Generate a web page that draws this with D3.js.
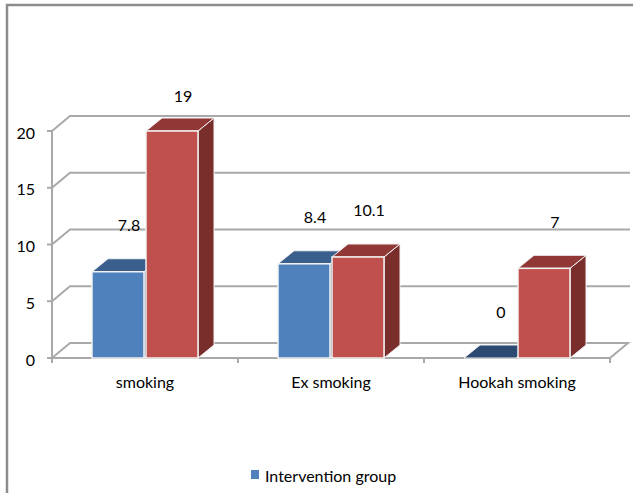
<!DOCTYPE html>
<html>
<head>
<meta charset="utf-8">
<script src="https://cdn.jsdelivr.net/npm/d3@7"></script>
<style>
  body { margin: 0; background: #fff; }
  text { font-family: Lato, "Open Sans", sans-serif; fill: #000; }
</style>
</head>
<body>
<div id="chart"></div>
<script>
// data
var categories = ["smoking", "Ex smoking", "Hookah smoking"];
var interventionBars = [7.6, 8.3, 0];     // drawn heights
var controlBars = [20, 8.9, 7.9];
var interventionLabels = ["7.8", "8.4", "0"];   // labels as printed
var controlLabels = ["19", "10.1", "7"];
var yTicks = [0, 5, 10, 15, 20];
var legendNames = ["Intervention group"];

var width = 633, height = 493;
var svg = d3.select("#chart").append("svg")
    .attr("width", width)
    .attr("height", height);

// outer frame (right/bottom edges fall off the picture)
svg.append("rect")
    .attr("x", 7).attr("y", 5)
    .attr("width", 640).attr("height", 500)
    .style("fill", "none")
    .style("stroke", "#8c8c8c")
    .style("stroke-width", 2.5);

var x0 = 52, x1 = 610;          // front floor edge
var depthX = 18, depthY = -15;  // wall depth
var barDX = 16, barDY = -13;    // bar depth

var x = d3.scaleBand().domain(categories).range([x0, x1]);
var y = d3.scaleLinear().domain([0, 20]).range([358, 131]);

var g = svg.append("g");
var gridColor = "#a9a9a9";

// back wall gridlines + diagonals from the front ticks
yTicks.forEach(function(t) {
    if (t === 0) return;
    g.append("path")
        .attr("d", "M" + x0 + "," + y(t) + "L" + (x0 + depthX) + "," + (y(t) + depthY) +
                   "L" + (x1 + depthX + 2) + "," + (y(t) + depthY))
        .style("fill", "none")
        .style("stroke", gridColor)
        .style("stroke-width", 2);
});

// floor
g.append("path")
    .attr("d", "M" + x0 + "," + y(0) + "L" + (x0 + depthX) + "," + (y(0) + depthY) +
               "L" + (x1 + depthX) + "," + (y(0) + depthY) + "L" + x1 + "," + y(0) + "Z")
    .style("fill", "#fff")
    .style("stroke", gridColor)
    .style("stroke-width", 2);

// y axis
g.append("line")
    .attr("x1", x0).attr("x2", x0)
    .attr("y1", y(20)).attr("y2", y(0) + 1)
    .style("stroke", gridColor).style("stroke-width", 2);
yTicks.forEach(function(t) {
    g.append("line")
        .attr("x1", x0 - 5).attr("x2", x0)
        .attr("y1", y(t)).attr("y2", y(t))
        .style("stroke", gridColor).style("stroke-width", 2);
    g.append("text")
        .attr("x", 35).attr("y", y(t) + 1)
        .attr("text-anchor", "end")
        .attr("dominant-baseline", "central")
        .style("font-size", "16px")
        .text(t);
});

// x axis ticks at category boundaries
var bounds = categories.map(function(c) { return x(c); }).concat([x1]);
bounds.forEach(function(b) {
    g.append("line")
        .attr("x1", b).attr("x2", b)
        .attr("y1", y(0)).attr("y2", y(0) + 5)
        .style("stroke", gridColor).style("stroke-width", 2);
});
categories.forEach(function(c) {
    g.append("text")
        .attr("x", x(c) + x.bandwidth() / 2)
        .attr("y", 388)
        .attr("text-anchor", "middle")
        .style("font-size", "16px")
        .text(c);
});

// 3d bars
var barW = 52;
var series = [
    { vals: interventionBars, labels: interventionLabels, off: -barW - 1,
      front: "#4f81bd", top: "#3a5f8d", side: "#2c4a72" },
    { vals: controlBars, labels: controlLabels, off: 1,
      front: "#c0504d", top: "#913735", side: "#7a2e2c" }
];

categories.forEach(function(c, i) {
    var cx = x(c) + x.bandwidth() / 2;
    series.forEach(function(s) {
        var bx = cx + s.off, yt = y(s.vals[i]), yb = y(0);
        var flat = s.vals[i] <= 0;
        var bar = g.append("g");
        if (!flat) {
            bar.append("path") // side
                .attr("d", "M" + (bx + barW) + "," + yt + "L" + (bx + barW + barDX) + "," + (yt + barDY) +
                           "L" + (bx + barW + barDX) + "," + (yb + barDY) + "L" + (bx + barW) + "," + yb + "Z")
                .style("fill", s.side).style("stroke", "#f2f2f2").style("stroke-width", 1);
        }
        bar.append("path") // top
            .attr("d", "M" + bx + "," + yt + "L" + (bx + barDX) + "," + (yt + barDY) +
                       "L" + (bx + barW + barDX) + "," + (yt + barDY) + "L" + (bx + barW) + "," + yt + "Z")
            .style("fill", flat ? s.side : s.top).style("stroke", "#f2f2f2").style("stroke-width", 1);
        if (!flat) {
            bar.append("rect") // front
                .attr("x", bx).attr("y", yt)
                .attr("width", barW).attr("height", yb - yt)
                .style("fill", s.front).style("stroke", "#f2f2f2").style("stroke-width", 1.5);
        }
        // labels sit above the bar, kept inside the plot area
        g.append("text")
            .attr("x", bx + barW / 2 + 11)
            .attr("y", Math.max(yt - 47, 95))
            .attr("text-anchor", "middle")
            .attr("dominant-baseline", "central")
            .style("font-size", "16px")
            .text(s.labels[i]);
    });
});

// legend
var leg = svg.append("g").attr("transform", "translate(251,470)");
legendNames.forEach(function(name) {
    leg.append("rect")
        .attr("width", 8).attr("height", 9)
        .style("fill", "#4f81bd");
    leg.append("text")
        .attr("x", 14).attr("y", 5)
        .attr("dominant-baseline", "central")
        .style("font-size", "16px")
        .text(name);
});
</script>
</body>
</html>
